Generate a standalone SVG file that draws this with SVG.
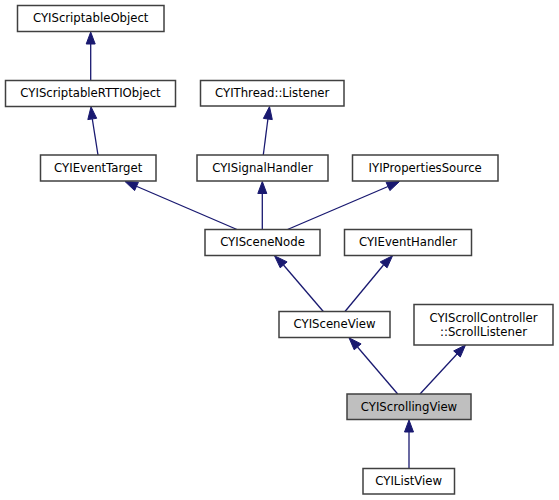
<svg xmlns="http://www.w3.org/2000/svg" width="559" height="500" viewBox="0 0 559 500">
<style>
.n rect{fill:#ffffff;stroke:#404040;stroke-width:1.5}
.n.cur rect{fill:#bfbfbf}
.n text{font-family:"DejaVu Sans",sans-serif;font-size:11.7px;fill:#000;text-anchor:middle}
.e line{stroke:#191970;stroke-width:1.3}
.e polygon{fill:#191970;stroke:#191970;stroke-width:1}
</style>
<rect width="559" height="500" fill="#ffffff"/>
<g id="edges" class="e">
<line x1="90.7" y1="80.5" x2="90.7" y2="44"/>
<polygon points="86.2,44 90.7,32 95.2,44"/>
<line x1="98" y1="155" x2="92.3" y2="119"/>
<polygon points="87.8,119.6 91,106.8 96.7,118.3"/>
<line x1="263.3" y1="155" x2="267.9" y2="119"/>
<polygon points="263.4,118.4 269.5,106.6 272.3,119.6"/>
<line x1="237" y1="229.5" x2="137" y2="186.5"/>
<polygon points="134.6,190.6 125,181.5 138.4,182.3"/>
<line x1="262.3" y1="229.5" x2="262.3" y2="193.5"/>
<polygon points="257.8,193.5 262.3,181.5 266.8,193.5"/>
<line x1="287.5" y1="229.5" x2="388" y2="186.5"/>
<polygon points="386.1,182.3 399.5,181.5 389.9,190.6"/>
<line x1="323.3" y1="311.5" x2="283.5" y2="265"/>
<polygon points="280.2,267.8 274.5,255.8 287.1,261.9"/>
<line x1="345" y1="311.5" x2="383.5" y2="265"/>
<polygon points="380.2,261.9 392.5,255.8 387.1,267.8"/>
<line x1="397.7" y1="394" x2="357.5" y2="347"/>
<polygon points="354.2,349.8 349,337.8 361.1,343.9"/>
<line x1="420" y1="394" x2="457" y2="354"/>
<polygon points="453.7,350.9 465.5,345 460.3,357"/>
<line x1="409" y1="468.5" x2="409" y2="432"/>
<polygon points="404.5,432 409,420 413.5,432"/>
</g>
<g id="CYIScriptableObject" class="n"><rect x="17.5" y="5.5" width="146.5" height="26"/><text x="90.7" y="22.2">CYIScriptableObject</text></g>
<g id="CYIScriptableRTTIObject" class="n"><rect x="5.5" y="80.5" width="170" height="26"/><text x="90.5" y="97.2">CYIScriptableRTTIObject</text></g>
<g id="CYIEventTarget" class="n"><rect x="40.5" y="155" width="115.5" height="26"/><text x="98.2" y="171.7">CYIEventTarget</text></g>
<g id="CYIThreadListener" class="n"><rect x="200.5" y="80.5" width="143.5" height="25.5"/><text x="272.2" y="97.2">CYIThread::Listener</text></g>
<g id="CYISignalHandler" class="n"><rect x="197" y="155" width="131" height="26"/><text x="262.5" y="171.7">CYISignalHandler</text></g>
<g id="IYIPropertiesSource" class="n"><rect x="352.5" y="155" width="145.5" height="26"/><text x="425.2" y="171.7">IYIPropertiesSource</text></g>
<g id="CYISceneNode" class="n"><rect x="205" y="229.5" width="115" height="26"/><text x="262.5" y="246.2">CYISceneNode</text></g>
<g id="CYIEventHandler" class="n"><rect x="344.5" y="229.5" width="127" height="26"/><text x="408" y="246.2">CYIEventHandler</text></g>
<g id="CYISceneView" class="n"><rect x="279" y="311.5" width="111" height="26"/><text x="334.5" y="328.2">CYISceneView</text></g>
<g id="CYIScrollControllerScrollListener" class="n"><rect x="414" y="304.5" width="139" height="40.5"/><text x="483.5" y="321.6">CYIScrollController</text><text x="483.5" y="335.6">::ScrollListener</text></g>
<g id="CYIScrollingView" class="n cur"><rect x="347" y="394" width="124" height="25.5"/><text x="409" y="410.7">CYIScrollingView</text></g>
<g id="CYIListView" class="n"><rect x="363" y="468.5" width="91.5" height="25.5"/><text x="408.7" y="485.2">CYIListView</text></g>
</svg>
